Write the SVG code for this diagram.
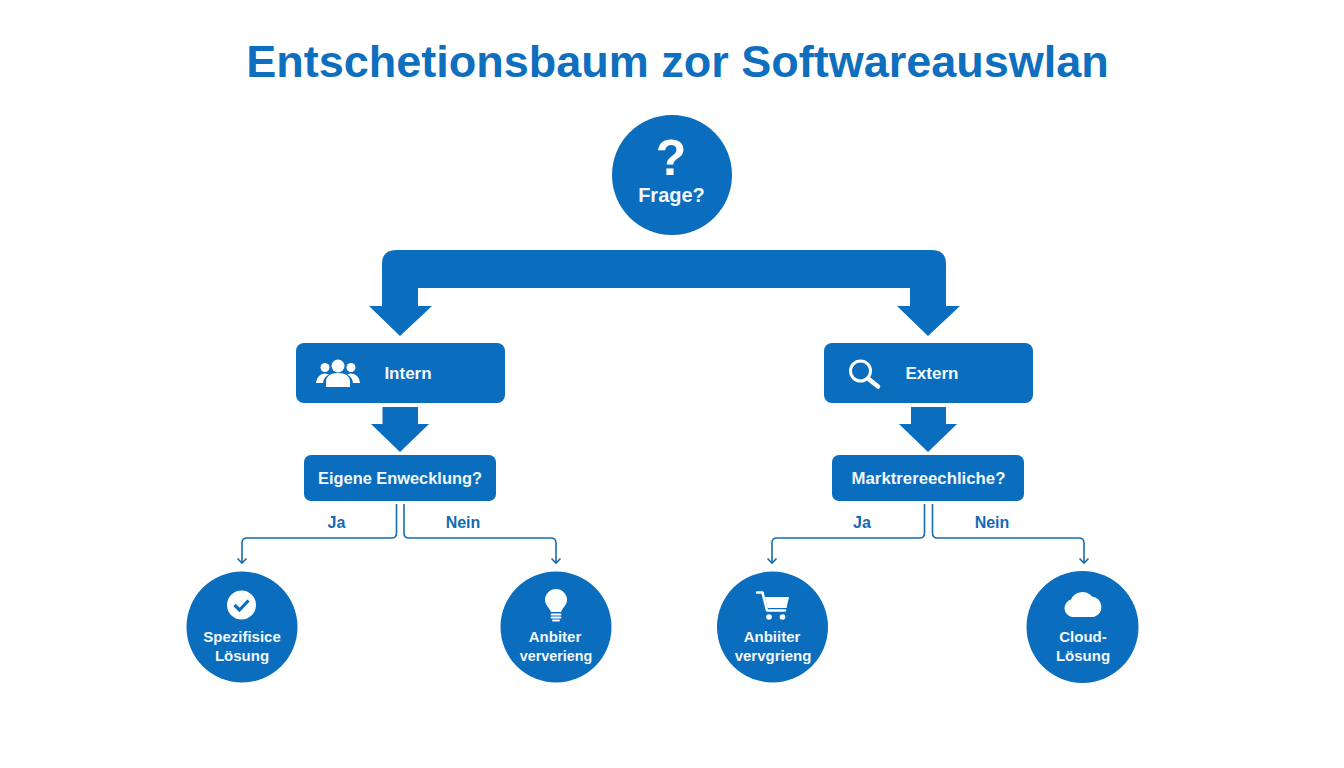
<svg xmlns="http://www.w3.org/2000/svg" width="1344" height="768" viewBox="0 0 1344 768">
<style>
text{font-family:"Liberation Sans",Arial,sans-serif;font-weight:700;text-anchor:middle}
.b{fill:#0b6dbd}
.w{fill:#fff}
.t{fill:#f2f8fc;font-size:16.400px}
.l{fill:#1369b3;font-size:16px}
.c{fill:none;stroke:#1a6cb0;stroke-width:1.600}
.wl{fill:none;stroke:#fff;stroke-linecap:round;stroke-linejoin:round}
.s{font-size:15px}
.m{font-size:17px}
</style>
<defs>
<marker id="open" markerWidth="12" markerHeight="12" refX="9" refY="6" orient="auto" markerUnits="userSpaceOnUse" viewBox="0 0 12 12"><path d="M4.500 1.500L9 6L4.500 10.500" fill="none" stroke="#1a6cb0" stroke-width="1.600"/></marker>
</defs>
<rect width="1344" height="768" fill="#fff"/>
<text id="title" x="677.500" y="77" font-size="45" fill="#0f6fbf">Entschetionsbaum zor Softwareauswlan</text>

<g id="connectors">
<path class="b" d="M369 306H382V264Q382 250 396 250H932Q946 250 946 264V306H960L928 336L897 306H910V288H418V306H432L400 336Z"/>
<path class="b" d="M382.500 407H418V424H429L400 452L371 424H382.500Z"/>
<path class="b" d="M911 407H946V424H957L928 452L899 424H911Z"/>
<path class="c" marker-end="url(#open)" d="M396.500 504V533Q396.500 538 391.500 538H247Q242 538 242 543V563"/>
<path class="c" marker-end="url(#open)" d="M404 504V533Q404 538 409 538H551Q556 538 556 543V563"/>
<path class="c" marker-end="url(#open)" d="M924.500 504V533Q924.500 538 919.500 538H777Q772 538 772 543V563"/>
<path class="c" marker-end="url(#open)" d="M932.500 504V533Q932.500 538 937.500 538H1079Q1084 538 1084 543V563"/>
<text class="l" x="336.500" y="528">Ja</text>
<text class="l" x="463" y="528">Nein</text>
<text class="l" x="862" y="528">Ja</text>
<text class="l" x="992" y="528">Nein</text>
</g>

<g id="node-frage">
<circle class="b" cx="672" cy="175" r="60"/>
<text class="w" x="671" y="175" font-size="50">?</text>
<text class="t" x="671.500" y="201.500" style="font-size:20px">Frage?</text>
</g>

<g id="node-intern">
<rect class="b" x="296" y="343" width="209" height="60" rx="8"/>
<g class="w">
<circle cx="338" cy="366" r="6.500"/><circle cx="325" cy="367.500" r="4.500"/><circle cx="351" cy="367.500" r="4.500"/>
<path d="M326 387V381Q327 373 338 373Q349 373 350 381V387Z"/>
<path d="M316 383Q317 374 325 373.500Q328 374 329 374.500Q323.500 377 323 383Z"/>
<path d="M360 383Q359 374 351 373.500Q348 374 347 374.500Q352.500 377 353 383Z"/>
</g>
<text class="t m" x="408" y="379">Intern</text>
</g>

<g id="node-extern">
<rect class="b" x="824" y="343" width="209" height="60" rx="8"/>
<circle class="wl" cx="860.500" cy="371" r="10" stroke-width="3"/>
<path class="wl" d="M868 378.500L878 386.500" stroke-width="4.500"/>
<text class="t m" x="932" y="379">Extern</text>
</g>

<g id="node-eigene">
<rect class="b" x="304" y="455" width="192" height="46" rx="7"/>
<text class="t" x="400" y="484">Eigene Enwecklung?</text>
</g>

<g id="node-markt">
<rect class="b" x="832" y="455" width="192" height="46" rx="7"/>
<text class="t" x="928.500" y="484" style="font-size:16.800px">Marktrereechliche?</text>
</g>

<g id="node-spezifisch">
<circle class="b" cx="242" cy="627" r="55.500"/>
<circle class="w" cx="241.500" cy="605" r="14.500"/>
<path d="M234.500 605L239.500 610L248.500 600.500" fill="none" stroke="#0b6dbd" stroke-width="3.200"/>
<text class="t s" x="242" y="642">Spezifisice</text>
<text class="t s" x="242" y="661">Lösung</text>
</g>

<g id="node-anbieter-1">
<circle class="b" cx="556" cy="627" r="55.500"/>
<path class="w" d="M551 612C549 607 545 605 545 600A11 11 0 0 1 567 600C567 605 563 607 561 612Z"/>
<path class="wl" d="M551.500 614.500H560.500M551.500 617.500H560.500M553 620.500H559" stroke-width="1.800"/>
<text class="t s" x="555" y="642">Anbiter</text>
<text class="t" x="556" y="661" style="font-size:14.300px">ververieng</text>
</g>

<g id="node-anbieter-2">
<circle class="b" cx="772.500" cy="627" r="55.500"/>
<path class="wl" d="M757 592.500H762.500L767 610.500H785" stroke-width="2.500"/>
<path class="w" d="M765 597H789L786.500 608H767.500Z"/>
<circle class="w" cx="769" cy="617" r="2.800"/><circle class="w" cx="782.500" cy="617" r="2.800"/>
<text class="t s" x="772" y="642">Anbiiter</text>
<text class="t s" x="773" y="661">vervgrieng</text>
</g>

<g id="node-cloud">
<circle class="b" cx="1082.500" cy="627" r="56"/>
<path class="w" d="M1072 617A9 9 0 0 1 1071 599.500A12.500 12.500 0 0 1 1092 596.500A10.500 10.500 0 0 1 1094 617Z"/>
<text class="t s" x="1083" y="642">Cloud-</text>
<text class="t s" x="1083" y="661">Lösung</text>
</g>
</svg>
